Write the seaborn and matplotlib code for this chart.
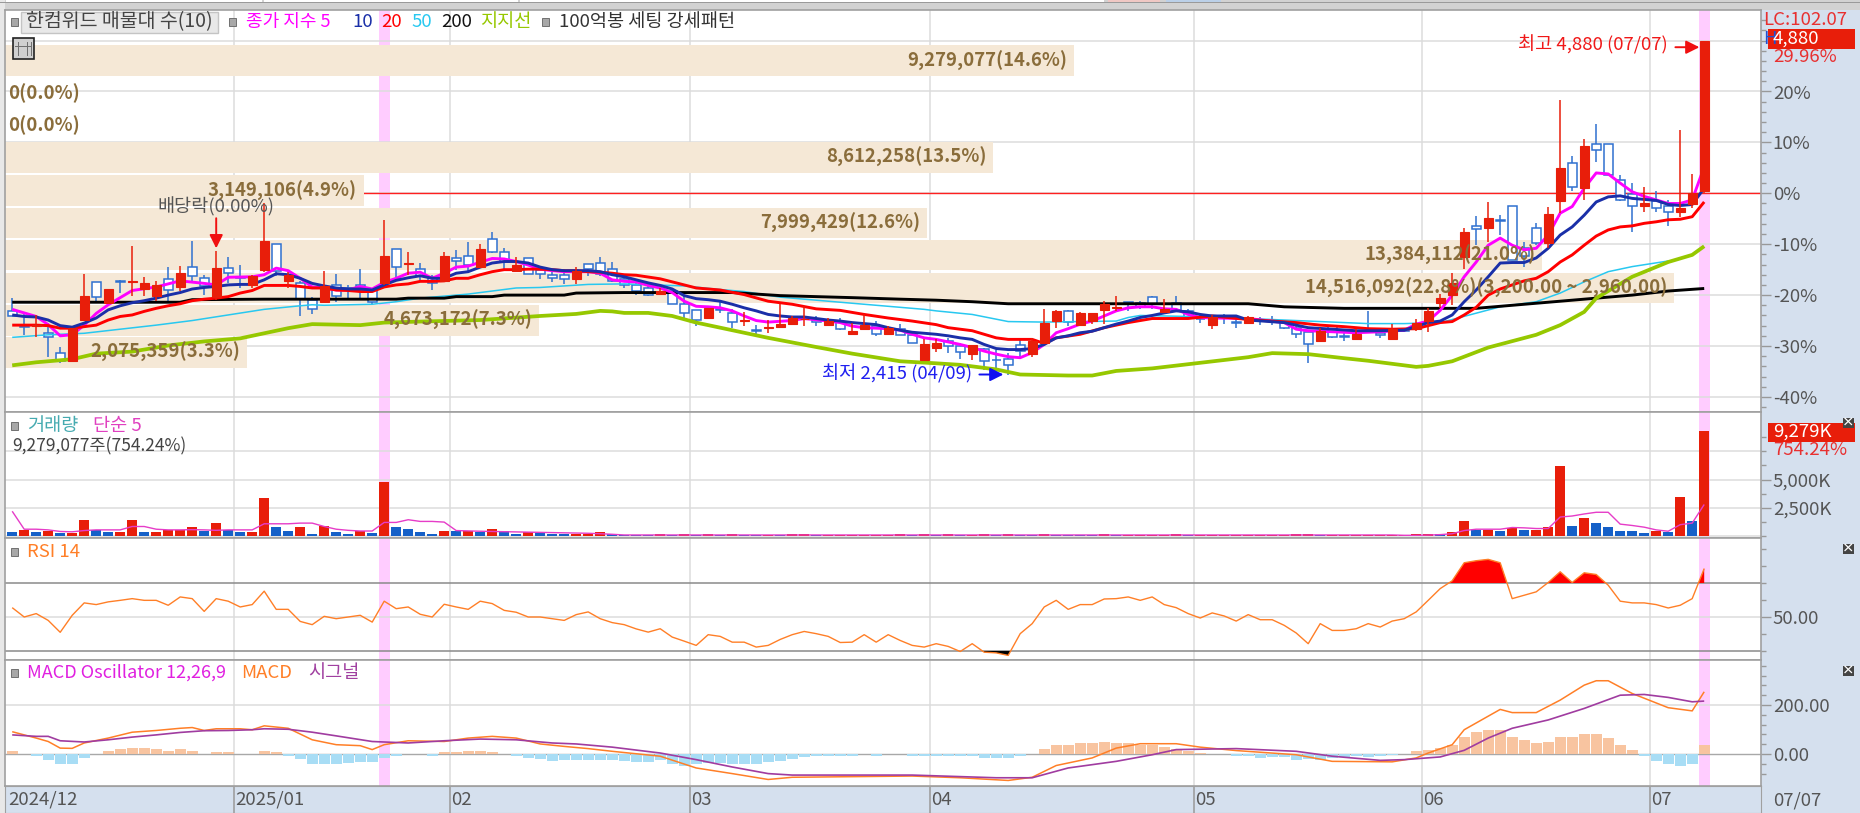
import numpy as np
import pandas as pd
import matplotlib
matplotlib.use("Agg")
import matplotlib.pyplot as plt
from matplotlib.patches import Rectangle
import seaborn as sns

W, H = 1860, 813

# =========================
# Data, % from base price
# =========================
op = [-23.2,-26.0,-26.0,-27.5,-31.3,-32.9,-24.9,-17.4,-21.6,-17.2,
      -17.4,-18.8,-20.1,-16.9,-18.5,-14.4,-16.6,-20.3,-14.7,-16.4,
      -18.0,-15.0,-10.0,-17.2,-17.7,-20.9,-21.3,-18.0,-18.7,-18.1,
      -18.8,-17.7,-10.9,-13.9,-14.9,-16.4,-17.2,-12.8,-12.4,-14.4,
      -8.9,-11.5,-15.2,-12.8,-15.0,-16.0,-16.0,-16.9,-13.9,-13.6,
      -14.9,-16.9,-18.1,-18.7,-19.7,-19.1,-21.7,-23.0,-24.5,-22.7,
      -23.6,-25.0,-26.8,-26.4,-26.3,-25.6,-24.7,-24.7,-25.9,-25.3,
      -27.7,-26.7,-26.0,-27.7,-26.7,-27.9,-32.8,-30.3,-29.0,-30.0,
      -31.6,-30.5,-32.7,-32.6,-29.9,-31.6,-29.5,-25.1,-23.1,-25.9,
      -25.1,-22.9,-22.5,-21.4,-21.5,-20.3,-23.3,-21.5,-23.1,-24.6,
      -25.9,-24.4,-25.2,-25.4,-24.8,-24.8,-25.0,-26.4,-27.2,-29.1,
      -26.1,-28.1,-28.6,-27.0,-27.4,-28.6,-26.7,-26.6,-25.1,-21.5,
      -19.9,-12.5,-6.5,-6.9,-5.3,-2.4,-10.8,-6.9,-9.8,-1.6,
      5.9,1.0,9.6,9.7,2.6,-0.1,-2.4,-1.6,-2.4,-3.6,
      -2.1,0.5]
cl = [-24.1,-26.3,-25.9,-28.3,-32.9,-26.5,-20.1,-20.3,-18.8,-17.5,
      -17.3,-17.7,-18.0,-19.0,-15.6,-16.2,-18.2,-14.7,-15.6,-16.7,
      -16.2,-9.4,-15.2,-16.0,-20.7,-22.7,-18.3,-20.2,-19.0,-18.6,
      -21.3,-12.3,-14.4,-13.6,-16.2,-17.7,-12.3,-13.3,-14.1,-10.9,
      -11.6,-13.4,-14.1,-15.8,-15.8,-16.6,-16.8,-15.2,-14.9,-15.9,
      -17.3,-18.1,-19.2,-20.0,-19.2,-21.7,-23.6,-24.8,-22.6,-22.9,
      -25.3,-24.9,-27.0,-26.2,-25.6,-24.5,-24.6,-25.2,-25.1,-26.7,
      -27.0,-25.8,-27.7,-26.4,-27.9,-29.4,-29.7,-29.4,-30.0,-31.2,
      -29.9,-32.9,-32.8,-33.8,-31.0,-29.0,-25.4,-23.1,-25.3,-23.6,
      -23.6,-21.8,-22.4,-21.6,-22.3,-21.7,-22.7,-23.0,-24.3,-24.7,
      -24.3,-24.5,-25.4,-24.4,-25.0,-25.0,-26.4,-27.6,-29.7,-27.0,
      -28.2,-28.2,-27.7,-27.1,-27.9,-26.7,-27.0,-25.4,-23.1,-20.5,
      -17.6,-7.6,-7.0,-4.8,-5.4,-13.1,-12.4,-9.8,-4.1,5.0,
      1.3,9.2,8.5,3.5,-1.3,-2.4,-2.0,-2.8,-3.6,-2.9,
      0.0,30.0]
hi = [-20.6,-23.4,-23.9,-25.4,-30.1,-26.5,-15.8,-17.4,-18.8,-17.0,
      -10.3,-16.5,-17.3,-14.4,-14.3,-9.3,-16.0,-11.4,-12.5,-14.1,
      -16.0,-2.0,-10.0,-15.4,-17.3,-20.4,-15.2,-15.9,-18.0,-14.9,
      -18.6,-5.2,-10.9,-11.6,-13.7,-16.0,-11.6,-11.1,-9.6,-10.0,
      -7.6,-10.8,-12.6,-12.8,-14.9,-15.0,-14.9,-14.4,-13.9,-12.6,
      -13.5,-15.9,-16.9,-17.9,-18.6,-18.6,-20.2,-23.0,-22.6,-21.4,
      -22.8,-23.3,-25.8,-24.8,-21.8,-24.1,-22.2,-24.1,-24.5,-24.5,
      -25.4,-23.8,-25.1,-26.1,-25.6,-27.1,-28.7,-28.7,-28.4,-29.5,
      -29.9,-30.3,-30.7,-31.4,-28.4,-28.4,-22.8,-22.9,-22.9,-23.3,
      -23.5,-21.2,-20.2,-21.4,-21.2,-20.2,-20.8,-20.2,-22.7,-23.8,
      -24.0,-23.8,-24.4,-24.1,-24.4,-24.2,-24.8,-25.4,-27.0,-26.4,
      -26.1,-27.4,-26.7,-23.1,-27.2,-25.7,-26.4,-24.6,-22.5,-19.8,
      -15.7,-6.8,-4.5,-1.8,-4.3,-2.4,-9.5,-5.9,-2.6,18.3,
      7.3,10.6,13.6,9.7,3.5,2.1,1.2,0.5,-1.3,12.4,
      3.8,30.0]
lo = [-24.2,-27.8,-28.3,-32.2,-33.4,-32.9,-24.9,-21.6,-21.6,-19.6,
      -20.2,-20.2,-21.1,-21.1,-19.1,-17.7,-20.0,-20.9,-17.7,-18.6,
      -18.6,-15.4,-16.2,-18.6,-24.2,-23.7,-21.3,-21.3,-20.6,-20.6,
      -21.8,-18.0,-17.0,-16.0,-17.3,-19.0,-17.3,-15.0,-15.7,-14.5,
      -11.8,-14.9,-15.4,-15.8,-16.9,-17.5,-17.8,-17.8,-16.2,-16.2,
      -17.5,-18.6,-19.9,-20.2,-19.9,-21.8,-24.6,-26.0,-24.5,-23.6,
      -26.4,-26.0,-28.1,-27.4,-26.3,-25.6,-26.0,-26.0,-25.9,-26.9,
      -27.7,-26.7,-28.1,-27.7,-27.9,-29.4,-32.8,-31.2,-31.3,-32.5,
      -32.8,-34.7,-34.9,-35.7,-32.6,-32.1,-29.5,-26.4,-26.1,-25.9,
      -25.6,-25.7,-23.1,-23.1,-22.8,-22.7,-23.3,-23.1,-24.6,-25.4,
      -26.6,-25.6,-26.5,-25.6,-25.9,-25.8,-26.6,-28.4,-33.3,-29.1,
      -28.4,-29.1,-28.9,-27.4,-28.4,-28.6,-27.2,-27.0,-27.2,-22.5,
      -22.0,-14.9,-10.2,-9.5,-8.2,-13.1,-14.4,-10.2,-10.8,-3.9,
      0.5,-1.3,6.1,3.5,-1.6,-7.7,-3.7,-3.7,-6.4,-4.6,
      -2.8,0.0]

ma5_idx = [0,2,3,4,5,6,7,8,9,10,12,14,16,17,18,20,21,22,23,24,25,26,27,28,29,30,31,32,33,34,35,36,37,38,40,41,42,43,44,45,46,48,49,50,51,
           52,53,54,55,56,57,58,59,60,61,62,63,65,66,68,69,70,71,73,74,75,76,77,78,79,80,81,82,83,84,85,86,87,88,89,90,91,92,93,94,95,96,97,98,99,
           100,103,106,107,108,110,112,114,116,117,118,119,120,121,122,123,124,125,126,127,128,129,130,131,132,133,134,135,136,137,138,139,140,141]
ma5_val = [-22.8,-24.2,-25.8,-28.0,-27.8,-25.9,-23.6,-21.9,-20.5,-19.1,-18.4,-17.2,-17.7,-18.0,-16.5,-16.4,-16.0,-14.7,-15.2,-16.7,-18.4,-18.6,-19.0,-19.0,-18.3,-18.8,-17.5,-16.7,-15.7,-15.5,-16.7,-15.7,-14.5,-14.3,-12.8,-12.9,-13.4,-14.1,-14.9,-15.2,-15.4,-15.4,-15.7,-17.0,-17.3,
           -17.4,-18.1,-18.6,-19.5,-21.2,-22.2,-22.3,-22.5,-23.1,-24.1,-25.0,-25.3,-25.0,-24.6,-25.1,-25.4,-26.1,-26.4,-26.6,-26.9,-27.7,-28.4,-28.7,-29.2,-29.7,-30.3,-31.0,-31.6,-32.1,-32.3,-31.3,-29.7,-27.4,-26.6,-25.7,-25.1,-24.1,-23.1,-22.5,-22.3,-22.3,-22.7,-22.8,-23.8,-24.4,
           -24.5,-24.6,-25.4,-26.7,-27.0,-27.2,-27.4,-27.2,-26.9,-25.7,-25.1,-23.0,-20.0,-16.4,-13.5,-10.2,-8.8,-10.2,-11.1,-10.8,-8.2,-3.9,-2.6,1.0,4.0,3.8,2.0,0.3,-0.6,-1.3,-2.0,-2.0,-1.3,5.2]

ma10_idx = list(range(0, 103)) + [103,106,108,110,112,114,116,118,119,120,121,122,123,124,125,126,127,128,129,130,131,132,133,134,135,136,137,138,139,140,141]
ma10_val = [-23.9,-24.2,-24.3,-24.9,-26.0,-26.3,-25.5,-24.5,-22.9,-22.1,-21.5,-21.1,-20.6,-20.0,-19.5,-18.8,-18.5,-18.3,-18.0,-17.9,-17.9,-17.0,-15.8,-16.0,-16.7,-17.7,
            -18.2,-18.6,-18.8,-18.8,-19.0,-18.0,-17.1,-16.6,-16.2,-16.7,-16.7,-15.7,-15.4,-14.5,-13.7,-13.4,-13.4,-13.7,-14.5,-15.0,-15.2,-15.2,-15.2,-15.4,-16.0,-16.4,
            -17.0,-17.6,-18.1,-18.8,-20.1,-20.7,-20.9,-21.2,-21.8,-22.5,-23.1,-23.8,-24.1,-24.3,-24.3,-24.6,-24.9,-25.1,-25.4,-25.6,-25.8,-26.4,-26.9,-27.3,-27.5,-27.7,
            -28.0,-28.4,-28.7,-29.7,-30.5,-30.7,-30.7,-30.5,-29.7,-28.4,-28.0,-27.4,-27.1,-26.4,-25.7,-25.1,-24.4,-24.0,-23.5,-23.1,-23.3,-23.8,-24.1,-24.1,-24.1,
            -24.9,-25.4,-26.4,-26.7,-27.0,-27.0,-26.9,-25.4,-25.1,-23.9,-21.3,-19.0,-16.4,-13.7,-13.6,-13.6,-12.7,-10.8,-8.2,-6.6,-4.3,-1.7,-0.7,-0.5,-1.0,-1.2,-1.4,-2.2,-2.4,-2.2,1.0]

ma20_idx = list(range(0, 52)) + [52,54,55,57,59,61,63,65,67,69,71,73,75,77,78,80,81,82,83,84,85,86,87,89,91,93,95,97,98,100,103,105,107,109,111,113,115,117,119,120,121,122,123,124,125,126,127,128,129,130,131,132,133,134,135,136,137,138,139,140,141]
ma20_val = [-25.9,-25.9,-25.9,-26.0,-26.5,-26.5,-26.2,-25.9,-24.9,-24.2,-23.9,-23.2,-22.6,-22.1,-21.7,-21.1,-20.8,-20.6,-20.3,-19.6,-19.1,-18.1,-18.1,-18.1,-18.3,-18.6,
            -18.6,-19.0,-19.1,-19.3,-19.3,-18.4,-18.0,-17.8,-17.3,-17.3,-17.2,-16.7,-16.7,-16.0,-15.4,-15.0,-15.0,-14.9,-14.9,-15.0,-15.2,-15.2,-15.4,-15.5,-15.7,-16.0,
            -16.1,-16.8,-17.4,-18.6,-19.0,-19.9,-21.2,-21.8,-22.7,-23.0,-23.8,-24.5,-25.1,-25.8,-26.4,-27.0,-27.7,-28.4,-28.7,-28.7,-28.7,-29.5,-28.4,-27.7,-26.4,-25.4,-24.6,-24.6,-24.6,-24.1,
            -24.8,-25.1,-25.4,-25.9,-26.2,-26.6,-26.7,-26.6,-25.4,-25.2,-23.9,-22.4,-20.0,-18.8,-18.0,-17.2,-16.7,-15.4,-13.5,-12.1,-10.2,-8.4,-7.2,-6.6,-6.4,-5.9,-5.6,-5.2,-5.1,-4.6,-1.7]

ma50_idx = [0,3,6,9,12,15,18,21,24,25,26,28,30,32,34,38,40,42,44,46,48,51,56,59,61,64,68,73,76,77,80,83,86,92,93,94,98,103,110,113,116,119,120,124,127,129,131,133,135,138]
ma50_val = [-28.3,-27.8,-27.5,-26.7,-25.9,-25.0,-23.9,-22.8,-22.1,-21.9,-22.0,-21.9,-21.8,-21.3,-20.6,-19.8,-19.2,-18.6,-18.5,-18.2,-17.9,-17.8,-18.2,-18.9,-19.3,-20.4,-21.2,-22.2,-22.8,-23.1,-23.8,-25.2,-25.3,-25.1,-24.4,-24.0,-24.2,-24.6,-25.3,-25.6,-25.6,-25.4,-24.8,-22.3,-21.3,-19.6,-17.4,-15.4,-14.4,-13.3]

ma200_idx = [0,14,15,21,32,33,36,37,40,41,46,47,51,56,60,64,70,74,77,80,83,103,106,111,118,122,125,128,132,135,138,141]
ma200_val = [-21.4,-21.4,-20.9,-20.8,-20.8,-20.6,-20.6,-20.3,-20.3,-20.0,-20.0,-19.6,-19.5,-19.5,-19.5,-20.1,-20.5,-20.8,-21.0,-21.3,-21.7,-21.7,-22.3,-22.6,-22.6,-22.6,-22.0,-21.4,-20.6,-20.0,-19.2,-18.7]

sup_idx = [0,2,5,7,10,13,16,19,21,23,25,29,31,34,39,44,47,49,50,51,53,55,57,60,63,67,70,74,77,79,82,84,88,90,92,95,99,103,105,108,111,113,117,118,120,123,127,129,131,132,135,138,140,141]
sup_val = [-33.8,-33.2,-32.6,-31.5,-31.1,-29.9,-29.1,-28.5,-27.5,-26.5,-25.7,-25.9,-25.4,-25.2,-24.9,-24.1,-23.7,-23.1,-23.2,-23.5,-23.5,-24.1,-25.4,-26.9,-28.4,-30.2,-31.5,-33.0,-33.4,-33.7,-34.6,-35.6,-35.8,-35.8,-34.9,-34.4,-33.3,-32.2,-31.4,-31.6,-32.4,-32.9,-34.1,-33.9,-33.0,-30.3,-27.8,-25.9,-23.3,-20.6,-16.4,-13.5,-12.1,-10.4]

# volume profile rows (top to bottom)
prof_mid = [26.05, 19.7, 13.3, 7.05, 0.55, -5.85, -12.15, -18.65, -24.95, -31.25]
prof_share = [14.6, 0.0, 0.0, 13.5, 4.9, 12.6, 21.0, 22.8, 7.3, 3.3]
prof_vol = ["9,279,077", "0", "0", "8,612,258", "3,149,106", "7,999,429", "13,384,112", "14,516,092", "4,673,172", "2,075,359"]

vol = [330,540,360,480,270,270,1440,540,360,370,1440,360,370,540,540,780,450,1140,540,360,
       390,3330,780,480,780,210,900,360,210,450,240,4800,780,660,360,210,480,420,420,360,
       630,420,210,330,300,180,150,180,190,390,150,120,110,100,150,130,160,120,140,110,
       150,120,100,130,110,150,170,60,60,60,60,60,60,60,170,60,170,60,170,60,
       60,170,60,150,100,90,150,120,100,90,80,170,60,60,60,60,60,170,60,60,
       60,60,60,60,60,60,60,180,180,60,60,60,60,60,60,60,60,180,180,170,
       390,1290,540,540,480,690,540,540,780,6180,900,1590,1140,780,480,450,240,450,330,3480,
       1290,9279]
vol_ma = [2190,600,600,540,400,370,480,540,540,540,840,840,600,540,540,560,540,500,540,540,
          540,1080,1080,1080,1140,1140,840,600,500,440,440,1200,1200,1440,1290,1290,1230,480,450,420,
          400,380,360,340,320,300,280,260,240,200,150]
vol_ma = vol_ma + [90] * 65 + [60, 60, 80, 120, 200, 480, 600, 600, 600, 750, 720, 660, 660, 1680, 1770, 1950, 2100, 2100, 1050, 930, 780, 540, 420, 1000, 1140, 2790]

rsi = [55.5,50.0,52.0,48.0,41.0,51.0,58.3,57.3,58.9,59.8,60.8,59.8,59.8,56.9,61.8,60.8,53.3,60.8,59.3,55.9,
       57.3,65.2,54.5,54.5,47.4,45.5,50.4,49.0,50.0,51.0,47.0,59.3,54.9,55.9,51.6,50.0,57.5,55.9,54.5,59.3,
       57.9,53.9,52.8,50.0,50.0,49.0,48.0,51.4,53.0,49.0,46.7,45.5,43.0,41.1,43.1,38.2,35.8,33.3,39.6,38.6,
       35.2,35.2,32.3,33.3,36.8,39.6,41.5,40.2,38.6,35.0,35.2,39.6,35.2,39.6,36.2,33.3,32.3,34.3,32.7,29.7,
       34.3,29.3,28.9,27.4,40.2,46.1,55.9,59.8,54.5,57.3,57.3,60.6,60.8,61.8,59.8,61.8,57.3,55.5,52.0,49.4,
       52.4,50.6,47.6,51.4,48.4,48.4,45.1,40.6,34.3,46.1,42.1,42.1,43.1,46.1,44.1,47.6,49.0,53.0,59.8,66.7,
       71.3,81.9,83.1,83.9,81.9,60.8,62.8,64.8,70.3,76.6,70.3,76.0,75.0,68.7,59.3,58.3,58.3,57.3,55.3,56.9,
       60.8,78.5]

macd_idx = [0,2,3,4,5,6,8,10,12,14,15,16,17,19,20,21,23,25,27,29,30,31,33,36,38,40,42,44,46,48,50,54,57,60,63,65,75,79,83,85,87,90,92,94,97,99,102,107,110,115,117,118,120,121,124,125,127,129,131,132,133,135,138,140,141]
macd_val = [91,65,51,24,23,45,65,89,96,105,108,96,103,103,99,115,105,58,38,34,18,38,54,51,65,72,65,41,31,22,11,-9,-57,-80,-104,-95,-90,-97,-108,-95,-47,-16,24,42,42,28,14,-3,-30,-32,-16,4,38,99,182,169,169,220,281,299,299,247,189,176,254]
sig_idx = [0,2,3,4,6,8,10,12,14,16,18,20,21,23,25,27,30,33,36,39,42,45,47,50,54,57,60,63,65,75,82,85,88,92,95,97,102,107,110,114,116,119,121,123,125,128,131,134,136,138,140,141]
sig_val = [78,72,72,54,49,58,69,78,88,95,96,99,103,101,89,74,51,45,54,61,58,45,41,28,4,-23,-53,-80,-86,-86,-97,-97,-57,-30,-3,18,22,11,-9,-26,-23,-12,15,65,105,139,186,240,243,231,213,216]
osc = [12,0,-9,-23,-41,-41,-16,0,14,20,24,24,19,14,20,14,2,7,7,2,
       2,14,7,-9,-20,-41,-41,-41,-36,-34,-34,-16,-9,0,0,-9,7,7,14,14,
       7,1,-9,-16,-20,-27,-23,-23,-23,-23,-23,-27,-34,-34,-23,-41,-47,-41,-36,-36,
       -41,-41,-41,-34,-27,-20,-14,-9,-9,-9,-9,0,-9,0,0,-9,-9,-9,-9,-9,
       -9,-16,-16,-16,-9,0,20,38,38,45,45,51,45,45,38,38,28,20,14,4,
       2,-2,-9,-10,-16,-14,-12,-23,-20,-23,-16,-14,-9,-12,-9,-4,0,14,18,24,
       38,69,88,99,99,69,58,45,50,69,69,81,81,64,38,15,-9,-27,-41,-47,
       -41,38]

month_start = [19, 37, 57, 77, 99, 118, 137]
month_labels = ["2025/01", "02", "03", "04", "05", "06", "07"]
pct_ticks = [-40, -30, -20, -10, 0, 10, 20]
highlight_days = [31, 141]

# =========================
# Style
# =========================
sns.set_style("white")
plt.rcParams["font.family"] = ["Noto Sans CJK KR", "DejaVu Sans"]

RED = "#E81E0A"
BLUE = "#2F70D0"
BEIGE = "#F5E8D6"
BROWN = "#8A6D3B"
GRID = "#DCDCDC"
DARK = "#A0A0A0"
STRIP = "#D5E0EE"
LABEL = "#555555"
PINK = "#FFCCFF"
FS = 13.4

idx = np.arange(142)
X0, X1 = 5, 1761
xlim = ((X0 - 12.2) / 12, (X1 - 12.2) / 12)
fig = plt.figure(figsize=(W / 100, H / 100), dpi=100, facecolor="white")


def add_ax(top, bottom, ylim):
    ax = fig.add_axes([X0 / W, 1 - bottom / H, (X1 - X0) / W, (bottom - top) / H])
    ax.set_xlim(xlim)
    ax.set_ylim(ylim)
    ax.set_facecolor("white")
    for s in ax.spines.values():
        s.set_color(DARK)
        s.set_linewidth(1.2)
    ax.set_xticks([])
    ax.yaxis.tick_right()
    ax.tick_params(axis="y", which="major", length=7, width=1, color="#999999", labelcolor=LABEL, labelsize=FS, pad=1.5, right=True, left=False)
    ax.tick_params(axis="y", which="minor", length=3.5, width=1, color="#999999", right=True, left=False)
    for d in highlight_days:
        ax.axvspan(d - 0.46, d + 0.46, color=PINK, lw=0, zorder=0)
    for m in month_start:
        ax.axvline(m - 0.5, color=GRID, lw=1.1, zorder=1)
    return ax


def ptext(x, y, s, color=LABEL, size=FS, ha="left", va="center", **kw):
    return fig.text(x / W, 1 - y / H, s, color=color, fontsize=size, ha=ha, va=va, zorder=20, **kw)


def prect(x0, y0, x1, y1, fc, ec="none", lw=0, zorder=-1):
    fig.add_artist(Rectangle((x0 / W, 1 - y1 / H), (x1 - x0) / W, (y1 - y0) / H, transform=fig.transFigure,
                             facecolor=fc, edgecolor=ec, linewidth=lw, zorder=zorder))


def line(ax, x, y, color, lw, z):
    sns.lineplot(x=list(x), y=list(y), color=color, linewidth=lw, ax=ax, estimator=None, errorbar=None,
                 legend=False, zorder=z, solid_capstyle="butt")


# window chrome
prect(0, 0, W, 10, "#D2D2D2")
prect(0, 0, 5, H, "#E8E8E8")
prect(6, 0, 262, 2, "white")
prect(264, 0, 518, 2, "white")
prect(520, 0, 1104, 2, "white")
prect(1108, 0, 1160, 3, "#F0C8C4")
prect(1166, 0, 1221, 3, "#BBD0E8")
prect(0, 2, W, 3.5, "#9A9A9A")
prect(X1, 10, W, H, STRIP)
prect(X0, 786, X1, H, STRIP)

# =========================
# Main panel
# =========================
ax = add_ax(10, 412, ((193.3 - 412) / 5.09, (193.3 - 10) / 5.09))
for t in pct_ticks + [30]:
    ax.axhline(t, color=GRID, lw=1.1, zorder=1)
ax.axhline(0, color="#FF2020", lw=1.0, zorder=1.5)

ax.barh(prof_mid, np.array(prof_share) * 6.1, left=xlim[0], height=6.0, color=BEIGE, lw=0, zorder=2)
for y, share, v in zip(prof_mid, prof_share, prof_vol):
    txt = f"{v}({share:.1f}%)"
    if share == 22.8:
        txt += "(3,200.00 ~ 2,960.00)"
    if share == 0:
        ax.text(xlim[0] + 0.3, y, txt, color=BROWN, fontsize=FS, fontweight="bold", ha="left", va="center", zorder=12)
    else:
        ax.text(xlim[0] + share * 6.1 - 0.55, y, txt, color=BROWN, fontsize=FS, fontweight="bold", ha="right", va="center", zorder=12)

o, c, h, l = map(np.array, (op, cl, hi, lo))
up = c >= o
body_top, body_bot = np.maximum(o, c), np.minimum(o, c)

# hollow blue candles sit under the averages, red ones over them
ax.vlines(idx[~up], l[~up], h[~up], color=BLUE, lw=1.1, zorder=3)
ax.bar(idx[~up], (body_top - body_bot)[~up], bottom=body_bot[~up], width=0.74, facecolor="white", edgecolor=BLUE, linewidth=1.1, zorder=3.2)

line(ax, ma50_idx, ma50_val, "#28C8F0", 1.1, 4)
line(ax, ma200_idx, ma200_val, "black", 2.1, 4.1)
line(ax, sup_idx, sup_val, "#96C800", 2.7, 4.2)
line(ax, ma5_idx, ma5_val, "#FF00FF", 2.1, 4.3)
line(ax, ma20_idx, ma20_val, "#FF0000", 2.1, 4.4)
line(ax, ma10_idx, ma10_val, "#1A2FA8", 2.1, 4.5)

ax.vlines(idx[up], l[up], h[up], color=RED, lw=1.1, zorder=5)
ax.bar(idx[up], (body_top - body_bot)[up], bottom=body_bot[up], width=0.78, facecolor=RED, edgecolor=RED, linewidth=0.8, zorder=5.2)

ax.annotate("", xy=(17, -10.8), xytext=(17, -4.9), zorder=11,
            arrowprops=dict(arrowstyle="-|>", color="#F01010", lw=1.4, mutation_scale=20, shrinkA=0, shrinkB=0))
ax.text(17, -2.7, "배당락(0.00%)", color="#555555", fontsize=FS, ha="center", va="center", zorder=12)
ax.annotate("", xy=(140.6, 28.7), xytext=(138.6, 28.7), zorder=11,
            arrowprops=dict(arrowstyle="-|>", color="#F01010", lw=1.4, mutation_scale=20, shrinkA=0, shrinkB=0))
ax.text(138, 29.1, "최고 4,880 (07/07)", color="#F01818", fontsize=FS, ha="right", va="center", zorder=12)
ax.annotate("", xy=(82.6, -35.6), xytext=(80.6, -35.6), zorder=11,
            arrowprops=dict(arrowstyle="-|>", color="#1010F0", lw=1.4, mutation_scale=20, shrinkA=0, shrinkB=0))
ax.text(80, -35.4, "최저 2,415 (04/09)", color="#2020F0", fontsize=FS, ha="right", va="center", zorder=12)

ax.set_yticks(pct_ticks)
ax.set_yticklabels([f"{t}%" for t in pct_ticks])
ax.set_yticks(np.arange(-42, 36, 2), minor=True)

# =========================
# Volume
# =========================
ax_v = add_ax(412, 538, (-179, 10982))
for t in (0, 2500, 5000, 7500):
    ax_v.axhline(t, color=GRID, lw=1.1, zorder=1)
vol_df = pd.DataFrame({"day": idx, "vol": vol})
vol_df["dir"] = np.where(vol_df["vol"].diff().fillna(-1) >= 0, "up", "down")
sns.barplot(data=vol_df, x="day", y="vol", hue="dir", palette={"up": RED, "down": "#1560C8"}, native_scale=True, saturation=1,
            dodge=False, width=0.86, errorbar=None, legend=False, linewidth=0, ax=ax_v, zorder=3)
line(ax_v, idx, vol_ma, "#E63CC8", 1.0, 4)
ax_v.set(xlabel="", ylabel="", xlim=xlim, ylim=(-179, 10982), xticks=[])
ax_v.set_yticks([2500, 5000], ["2,500K", "5,000K"])
ax_v.set_yticks([0, 1250, 3750, 6250, 7500, 8750], minor=True)

# =========================
# RSI
# =========================
ax_r = add_ax(538, 660, (50 - 43 / 1.7, 50 + 79 / 1.7))
ax_r.axhline(50, color=GRID, lw=1.1, zorder=1)
ax_r.axhline(70, color="#8A8A8A", lw=1.1, zorder=1.5)
ax_r.axhline(30, color="#8A8A8A", lw=1.1, zorder=1.5)
rsi_arr = np.array(rsi)
ax_r.fill_between(idx, rsi_arr, 70, where=rsi_arr >= 70, interpolate=True, color="#FF0000", lw=0, zorder=3)
ax_r.fill_between(idx, rsi_arr, 30, where=rsi_arr <= 30, interpolate=True, color="black", lw=0, zorder=3)
line(ax_r, idx, rsi, "#FF7F27", 1.0, 4)
ax_r.set(xlabel="", ylabel="", xlim=xlim, xticks=[])
ax_r.set_yticks([50], ["50.00"])
ax_r.set_yticks([30, 40, 60, 70, 80, 90], minor=True)

# =========================
# MACD
# =========================
ax_m = add_ax(660, 786, (-32 / 0.245, 94 / 0.245))
ax_m.axhline(200, color=GRID, lw=1.1, zorder=1)
ax_m.axhline(0, color="#A8A8A8", lw=1.0, zorder=1.5)
osc_df = pd.DataFrame({"day": idx, "osc": osc})
osc_df["sign"] = np.where(osc_df["osc"] >= 0, "pos", "neg")
sns.barplot(data=osc_df, x="day", y="osc", hue="sign", palette={"pos": "#F8C4A0", "neg": "#A8DDF5"}, native_scale=True, saturation=1,
            dodge=False, width=0.92, errorbar=None, legend=False, linewidth=0, ax=ax_m, zorder=3)
line(ax_m, macd_idx, macd_val, "#FF7F27", 1.1, 4)
line(ax_m, sig_idx, sig_val, "#A03CA0", 1.2, 4.2)
ax_m.set(xlabel="", ylabel="", xlim=xlim, ylim=(-32 / 0.245, 94 / 0.245), xticks=[])
ax_m.set_yticks([0, 200], ["0.00", "200.00"])
ax_m.set_yticks([-80, -40, 40, 80, 120, 160, 240, 280, 320, 360], minor=True)

# =========================
# Date strip
# =========================
ax_d = fig.add_axes([X0 / W, 0, (X1 - X0) / W, (H - 786) / H], facecolor=STRIP)
ax_d.set_xlim(xlim)
ax_d.set_ylim(0, 1)
ax_d.set_yticks([])
ax_d.set_xticks([])
for s in ax_d.spines.values():
    s.set_color(DARK)
for m, lab in zip(month_start, month_labels):
    ax_d.axvline(m - 0.5, color="#999999", lw=1.1)
    ax_d.text(m - 0.42, 0.5, lab, color=LABEL, fontsize=FS, ha="left", va="center")
ax_d.text(xlim[0] + 0.25, 0.5, "2024/12", color=LABEL, fontsize=FS, ha="left", va="center")
ptext(1773, 800, "07/07")

# =========================
# Panel captions and right-side boxes
# =========================
for y in (22, 426, 552, 673):
    prect(11, y - 4, 18, y + 4, "#A8A8A8", ec="#707070", lw=0.7, zorder=15)
prect(232 - 3.5, 18, 232 + 3.5, 26, "#A8A8A8", ec="#707070", lw=0.7, zorder=15)
prect(545 - 3.5, 18, 545 + 3.5, 26, "#A8A8A8", ec="#707070", lw=0.7, zorder=15)
prect(21, 12, 218, 33, "#E8E8E8", ec="#C4C4C4", lw=1, zorder=15)

ptext(26, 22, "한컴위드 매물대 수(10)", "#444444", size=14)
ptext(246, 22, "종가 지수 5", "#FF00FF", size=13)
ptext(352, 22, "10", "#1A2FA8")
ptext(381, 22, "20", "#FF0000")
ptext(411, 22, "50", "#28C8F0")
ptext(441, 22, "200", "#111111")
ptext(480, 22, "지지선", "#96C800")
ptext(559, 22, "100억봉 세팅 강세패턴", "#333333")

# table icon
prect(13, 38.5, 34, 59, "#D0D0D0", ec="#222222", lw=1.2, zorder=15)
for gx in (18, 22.5, 27, 31):
    prect(gx, 42, gx + 0.8, 56, "#707070", zorder=16)
prect(15, 46, 32, 47, "#707070", zorder=16)

ptext(27, 426, "거래량", "#45AAB0")
ptext(93, 426, "단순 5", "#E040C0")
ptext(12, 446, "9,279,077주(754.24%)", "#444444", size=12.5)
ptext(27, 552, "RSI 14", "#FF7F27")
ptext(27, 673, "MACD Oscillator 12,26,9", "#E020E0", size=13)
ptext(241, 673, "MACD", "#FF7F27")
ptext(308, 673, "시그널", "#A040A0")

ptext(1763, 20, "LC:102.07", "#E83030")
ptext(1763, 39, "H", "#2050D0")
prect(1768, 29, 1855, 49, RED, zorder=15)
ptext(1773, 39, "4,880", "white")
ptext(1773, 57, "29.96%", "#E83030")
prect(1768, 423, 1855, 442, RED, zorder=15)
ptext(1773, 432, "9,279K", "white")
ptext(1773, 450, "754.24%", "#E83030")

for y in (423, 549, 671):
    prect(1843, y - 5, 1854, y + 5, "#444444", zorder=21)
    fig.text(1848.5 / W, 1 - y / H, "×", color="white", fontsize=9, fontweight="bold", ha="center", va="center", zorder=22)

fig.savefig("out.png", dpi=100, facecolor="white")
plt.close(fig)
